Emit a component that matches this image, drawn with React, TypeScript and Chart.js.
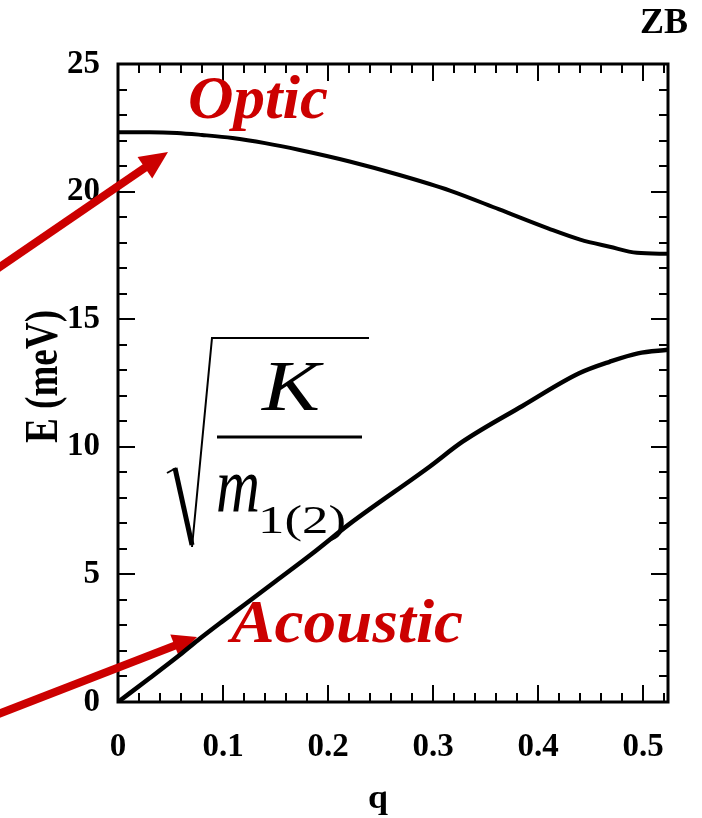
import React, { useEffect, useRef } from "react";
import { Chart, registerables } from "chart.js";

Chart.register(...registerables);

// ---- data ----
const qTicks = [0, 0.1, 0.2, 0.3, 0.4, 0.5];
const qMinor = [0.02, 0.04, 0.06, 0.08, 0.12, 0.14, 0.16, 0.18, 0.22, 0.24, 0.26, 0.28, 0.32, 0.34, 0.36, 0.38, 0.42, 0.44, 0.46, 0.48, 0.52];
const eTicks = [0, 5, 10, 15, 20, 25];
const eMinor = [1, 2, 3, 4, 6, 7, 8, 9, 11, 12, 13, 14, 16, 17, 18, 19, 21, 22, 23, 24];

const opticQ = [0, 0.03, 0.056, 0.08, 0.109, 0.14, 0.173, 0.2205, 0.268, 0.316, 0.363, 0.41, 0.44, 0.468, 0.494, 0.5236];
const opticE = [22.33, 22.33, 22.3, 22.22, 22.1, 21.9, 21.63, 21.18, 20.65, 20.04, 19.3, 18.55, 18.12, 17.84, 17.6, 17.56];

const acousticQ = [0, 0.03, 0.059, 0.076, 0.1, 0.121, 0.151, 0.185, 0.2205, 0.2966, 0.328, 0.385, 0.439, 0.468, 0.495, 0.5236];
const acousticE = [0, 0.93, 1.85, 2.42, 3.18, 3.83, 4.76, 5.82, 6.98, 9.22, 10.2, 11.6, 12.88, 13.33, 13.66, 13.8];

const Q_MAX = 0.5236;
const E_MAX = 25;

const FONT = '"Liberation Serif", "Times New Roman", Times, serif';
const RED = "#CC0000";

function fitText(ctx: CanvasRenderingContext2D, text: string, x: number, y: number, font: string, width: number, color: string) {
  ctx.save();
  ctx.font = font;
  ctx.fillStyle = color;
  ctx.textBaseline = "alphabetic";
  ctx.textAlign = "left";
  const w = ctx.measureText(text).width;
  ctx.translate(x, y);
  ctx.scale(width / w, 1);
  ctx.fillText(text, 0, 0);
  ctx.restore();
}

function arrow(ctx: CanvasRenderingContext2D, x0: number, y0: number, x1: number, y1: number, w: number, headLen: number, headHalf: number) {
  const dx = x1 - x0, dy = y1 - y0;
  const L = Math.hypot(dx, dy);
  const ux = dx / L, uy = dy / L;
  const bx = x1 - ux * headLen, by = y1 - uy * headLen;
  ctx.save();
  ctx.strokeStyle = RED;
  ctx.fillStyle = RED;
  ctx.lineWidth = w;
  ctx.lineCap = "butt";
  ctx.beginPath();
  ctx.moveTo(x0, y0);
  ctx.lineTo(bx + ux * 2, by + uy * 2);
  ctx.stroke();
  ctx.beginPath();
  ctx.moveTo(x1, y1);
  ctx.lineTo(bx - uy * headHalf, by + ux * headHalf);
  ctx.lineTo(bx + uy * headHalf, by - ux * headHalf);
  ctx.closePath();
  ctx.fill();
  ctx.restore();
}

const decorPlugin = {
  id: "decor",
  beforeDatasetsDraw(chart: any) {
    const ctx: CanvasRenderingContext2D = chart.ctx;
    const { left, right, top, bottom } = chart.chartArea;
    const xs = chart.scales.x, ys = chart.scales.y;
    ctx.save();
    ctx.strokeStyle = "#000";
    ctx.lineWidth = 2;
    ctx.beginPath();
    const xt = (v: number, len: number) => {
      const px = Math.round(xs.getPixelForValue(v));
      ctx.moveTo(px, bottom); ctx.lineTo(px, bottom - len);
      ctx.moveTo(px, top); ctx.lineTo(px, top + len);
    };
    const yt = (v: number, len: number) => {
      const py = Math.round(ys.getPixelForValue(v));
      ctx.moveTo(left, py); ctx.lineTo(left + len, py);
      ctx.moveTo(right, py); ctx.lineTo(right - len, py);
    };
    qTicks.forEach((v) => xt(v, 17));
    qMinor.forEach((v) => xt(v, 9));
    eTicks.forEach((v) => yt(v, 17));
    eMinor.forEach((v) => yt(v, 9));
    ctx.stroke();
    ctx.lineWidth = 3;
    ctx.strokeRect(left, top, right - left, bottom - top);
    ctx.restore();

    arrow(ctx, -12, 275, 168, 152, 8, 28, 13);
    arrow(ctx, -12, 718, 197, 637, 8, 24, 12);
  },
  afterDatasetsDraw(chart: any) {
    const ctx: CanvasRenderingContext2D = chart.ctx;
    fitText(ctx, "ZB", 640, 33, `bold 35px ${FONT}`, 48, "#000");
    fitText(ctx, "q", 368, 808, `bold 34px ${FONT}`, 20, "#000");
    ctx.save();
    ctx.translate(57, 443);
    ctx.rotate(-Math.PI / 2);
    fitText(ctx, "E (meV)", 0, 0, `bold 46px ${FONT}`, 133, "#000");
    ctx.restore();

    fitText(ctx, "Optic", 188, 118, `italic bold 62px ${FONT}`, 140, RED);
    fitText(ctx, "Acoustic", 231, 642, `italic bold 62px ${FONT}`, 232, RED);

    // formula sqrt(K / m_1(2))
    ctx.save();
    ctx.strokeStyle = "#000";
    ctx.lineCap = "butt";
    ctx.lineJoin = "miter";
    ctx.lineWidth = 2;
    ctx.beginPath();
    ctx.moveTo(167, 473);
    ctx.lineTo(176, 468);
    ctx.stroke();
    ctx.lineWidth = 5;
    ctx.beginPath();
    ctx.moveTo(175, 468);
    ctx.lineTo(192, 545);
    ctx.stroke();
    ctx.lineWidth = 2;
    ctx.beginPath();
    ctx.moveTo(192, 547);
    ctx.lineTo(212, 338);
    ctx.lineTo(369, 338);
    ctx.stroke();
    ctx.lineWidth = 3;
    ctx.beginPath();
    ctx.moveTo(217, 437);
    ctx.lineTo(362, 437);
    ctx.stroke();
    ctx.restore();
    fitText(ctx, "K", 262, 410, `italic 72px ${FONT}`, 58, "#000");
    fitText(ctx, "m", 216, 512, `italic 78px ${FONT}`, 44, "#000");
    fitText(ctx, "1(2)", 258, 533, `40px ${FONT}`, 88, "#000");
  },
};

export default function App() {
  const ref = useRef<HTMLCanvasElement>(null);
  useEffect(() => {
    if (!ref.current) return;
    const optic = opticQ.map((q, i) => ({ x: q, y: opticE[i] }));
    const acoustic = acousticQ.map((q, i) => ({ x: q, y: acousticE[i] }));
    const tickFont = { family: FONT, size: 33, weight: "bold" as const };
    const chart = new Chart(ref.current, {
      type: "line",
      data: {
        datasets: [
          { label: "Optic", data: optic, borderColor: "#000", borderWidth: 4, pointRadius: 0, cubicInterpolationMode: "monotone", fill: false, borderJoinStyle: "round" },
          { label: "Acoustic", data: acoustic, borderColor: "#000", borderWidth: 4.5, pointRadius: 0, cubicInterpolationMode: "monotone", fill: false, borderJoinStyle: "round" },
        ],
      },
      options: {
        responsive: false,
        animation: false,
        devicePixelRatio: 1,
        layout: { padding: { top: 64, right: 34, left: 0, bottom: 0 } },
        plugins: { legend: { display: false }, tooltip: { enabled: false }, title: { display: false } },
        scales: {
          x: {
            type: "linear",
            min: 0,
            max: Q_MAX,
            afterBuildTicks: (s: any) => { s.ticks = qTicks.map((v) => ({ value: v })); },
            afterFit: (s: any) => { s.height = 116; },
            grid: { display: false, drawTicks: false },
            border: { display: false },
            ticks: {
              padding: 26,
              color: "#000",
              font: tickFont,
              maxRotation: 0,
              autoSkip: false,
              callback: (v: any) => (Number(v) === 0 ? "0" : Number(v).toFixed(1)),
            },
          },
          y: {
            type: "linear",
            min: 0,
            max: E_MAX,
            afterBuildTicks: (s: any) => { s.ticks = eTicks.map((v) => ({ value: v })); },
            afterFit: (s: any) => { s.width = 118; },
            grid: { display: false, drawTicks: false },
            border: { display: false },
            ticks: {
              padding: 18,
              color: "#000",
              font: tickFont,
              autoSkip: false,
              callback: (v: any) => String(v),
            },
          },
        },
      },
      plugins: [decorPlugin],
    });
    return () => chart.destroy();
  }, []);
  return (
    <div style={{ position: "absolute", left: 0, top: 0, width: 702, height: 818, background: "#fff" }}>
      <canvas ref={ref} width={702} height={818} style={{ width: 702, height: 818, display: "block" }} />
    </div>
  );
}
